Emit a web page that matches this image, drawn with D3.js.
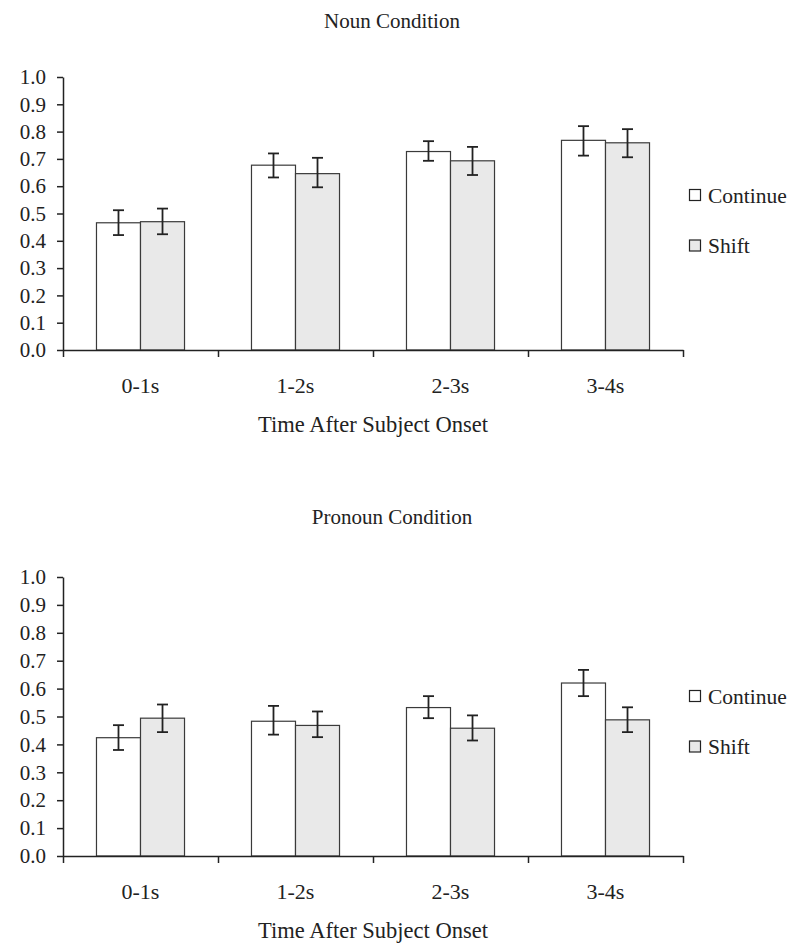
<!DOCTYPE html>
<html>
<head>
<meta charset="utf-8">
<script src="https://cdn.jsdelivr.net/npm/d3@7"></script>
<style>
  html, body { margin: 0; padding: 0; background: #fff; }
  svg { display: block; }
  svg text { font-family: "Liberation Serif", "Times New Roman", Times, serif !important; fill: #222; }
</style>
</head>
<body>
<svg id="chart" width="800" height="951"></svg>
<script>
// ---------- data ----------
const categories = ["0-1s", "1-2s", "2-3s", "3-4s"];
const seriesNames = ["Continue", "Shift"];
const yTicks = [0, 0.1, 0.2, 0.3, 0.4, 0.5, 0.6, 0.7, 0.8, 0.9, 1.0];

const nounTitle = "Noun Condition";
const nounContinue = [0.466, 0.677, 0.727, 0.768];
const nounContinueLo = [0.421, 0.632, 0.693, 0.712];
const nounContinueHi = [0.512, 0.720, 0.765, 0.820];
const nounShift = [0.470, 0.646, 0.693, 0.759];
const nounShiftLo = [0.424, 0.596, 0.641, 0.706];
const nounShiftHi = [0.518, 0.704, 0.744, 0.809];

const pronounTitle = "Pronoun Condition";
const pronounContinue = [0.424, 0.483, 0.532, 0.620];
const pronounContinueLo = [0.380, 0.435, 0.494, 0.573];
const pronounContinueHi = [0.469, 0.538, 0.573, 0.667];
const pronounShift = [0.494, 0.468, 0.458, 0.488];
const pronounShiftLo = [0.444, 0.426, 0.414, 0.444];
const pronounShiftHi = [0.543, 0.518, 0.504, 0.533];

const xAxisTitle = "Time After Subject Onset";

// ---------- styles ----------
const FONT = "'Liberation Serif', 'Times New Roman', Times, serif";
const fills = { "Continue": "#ffffff", "Shift": "#e9e9e9" };
const barStroke = "#3a3a3a";
const axisColor = "#222";

const svg = d3.select("#chart");

function panel(cfg) {
  const g = svg.append("g");
  const left = 63, right = 683;

  const x0 = d3.scaleBand().domain(categories).range([left, right])
    .paddingInner(0.432).paddingOuter(0.216);
  const x1 = d3.scaleBand().domain(seriesNames).range([0, x0.bandwidth()]).padding(0);
  const y = d3.scaleLinear().domain([0, 1]).range([cfg.y0, cfg.y1]);
  const xb = d3.scaleLinear().domain([0, categories.length]).range([left, right]);

  const rows = [];
  categories.forEach((c, i) => {
    rows.push({ cat: c, s: "Continue", v: cfg.cont[i], lo: cfg.contLo[i], hi: cfg.contHi[i] });
    rows.push({ cat: c, s: "Shift", v: cfg.shift[i], lo: cfg.shiftLo[i], hi: cfg.shiftHi[i] });
  });

  // bars
  g.selectAll("rect.bar").data(rows).enter().append("rect")
    .attr("class", "bar")
    .attr("x", d => x0(d.cat) + x1(d.s))
    .attr("y", d => y(d.v))
    .attr("width", x1.bandwidth())
    .attr("height", d => y(0) - y(d.v))
    .attr("fill", d => fills[d.s])
    .attr("stroke", barStroke)
    .attr("stroke-width", 1.2);

  // error bars
  const cap = 5.5;
  const cx = d => x0(d.cat) + x1(d.s) + x1.bandwidth() / 2;
  const eb = g.selectAll("g.err").data(rows).enter().append("g")
    .attr("stroke", axisColor).attr("stroke-width", 1.8);
  eb.append("line")
    .attr("x1", cx).attr("x2", cx)
    .attr("y1", d => y(d.lo)).attr("y2", d => y(d.hi));
  eb.append("line")
    .attr("x1", d => cx(d) - cap).attr("x2", d => cx(d) + cap)
    .attr("y1", d => y(d.hi)).attr("y2", d => y(d.hi));
  eb.append("line")
    .attr("x1", d => cx(d) - cap).attr("x2", d => cx(d) + cap)
    .attr("y1", d => y(d.lo)).attr("y2", d => y(d.lo));

  // y axis
  const ya = g.append("g").attr("transform", `translate(${left},0)`)
    .call(d3.axisLeft(y).tickValues(yTicks).tickFormat(d3.format(".1f")).tickSize(6).tickSizeOuter(0).tickPadding(11));
  ya.attr("font-family", null).attr("font-size", null);
  ya.select(".domain").attr("stroke", axisColor).attr("stroke-width", 1.5);
  ya.selectAll(".tick line").attr("stroke", axisColor).attr("stroke-width", 1.5);
  ya.selectAll(".tick text").style("font-family", FONT).style("font-size", "21px").attr("fill", "#222");

  // x axis (ticks at band boundaries)
  const xa = g.append("g").attr("transform", `translate(0,${cfg.y0})`)
    .call(d3.axisBottom(xb).tickValues(d3.range(0, categories.length + 1)).tickFormat("").tickSize(7).tickSizeOuter(0));
  xa.select(".domain").attr("stroke", axisColor).attr("stroke-width", 1.5);
  xa.selectAll(".tick line").attr("stroke", axisColor).attr("stroke-width", 1.5);

  // category labels
  g.selectAll("text.cat").data(categories).enter().append("text")
    .attr("class", "cat")
    .attr("x", d => x0(d) + x0.bandwidth() / 2)
    .attr("y", cfg.y0 + 43)
    .attr("text-anchor", "middle")
    .style("font-family", FONT).style("font-size", "22px")
    .text(d => d);

  // axis title
  g.append("text")
    .attr("x", (left + right) / 2)
    .attr("y", cfg.y0 + 82)
    .attr("text-anchor", "middle")
    .style("font-family", FONT).style("font-size", "22.5px")
    .text(xAxisTitle);

  // chart title
  g.append("text")
    .attr("x", 392)
    .attr("y", cfg.titleY)
    .attr("text-anchor", "middle")
    .style("font-family", FONT).style("font-size", "21px")
    .text(cfg.title);

  // legend
  seriesNames.forEach((s, i) => {
    const ly = cfg.legendY + i * 50.5;
    g.append("rect")
      .attr("x", 689.5).attr("y", ly)
      .attr("width", 11).attr("height", 11)
      .attr("fill", fills[s]).attr("stroke", "#222").attr("stroke-width", 1.2);
    g.append("text")
      .attr("x", 708).attr("y", ly + 13)
      .style("font-family", FONT).style("font-size", "21.5px")
      .text(s);
  });
}

panel({
  title: nounTitle, titleY: 28, y0: 350, y1: 77, legendY: 189.5,
  cont: nounContinue, contLo: nounContinueLo, contHi: nounContinueHi,
  shift: nounShift, shiftLo: nounShiftLo, shiftHi: nounShiftHi
});
panel({
  title: pronounTitle, titleY: 524, y0: 856, y1: 577, legendY: 690.5,
  cont: pronounContinue, contLo: pronounContinueLo, contHi: pronounContinueHi,
  shift: pronounShift, shiftLo: pronounShiftLo, shiftHi: pronounShiftHi
});
</script>
</body>
</html>
